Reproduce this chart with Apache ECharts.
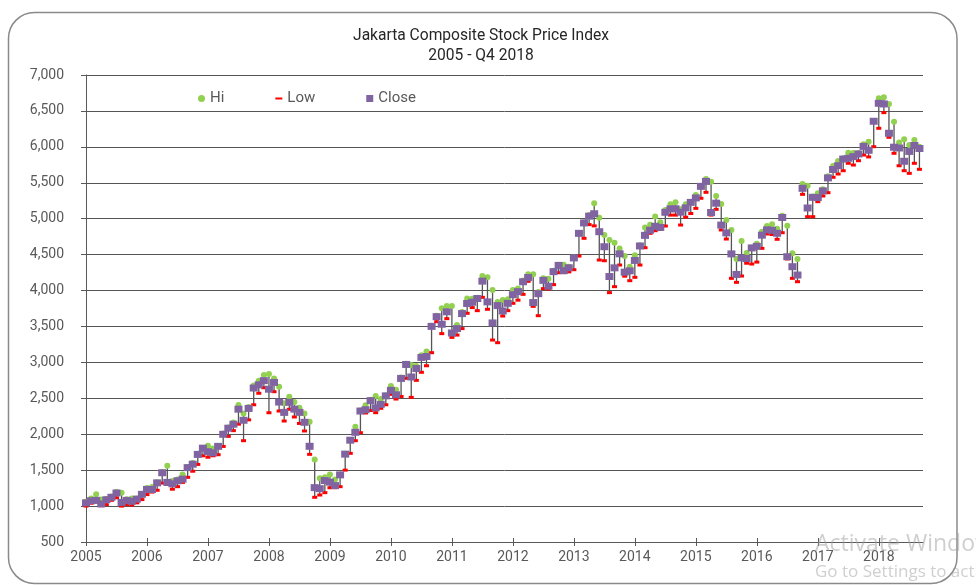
<!DOCTYPE html>
<html>
<head>
<meta charset="utf-8">
<script src="https://cdn.jsdelivr.net/npm/echarts@6/dist/echarts.min.js"></script>
<style>
html,body{margin:0;padding:0;background:#fff;}
#chart{width:976px;height:585px;}
</style>
</head>
<body>
<div id="chart"></div>
<script>
// ---- Data (monthly, Jan 2005 - Sep 2018) ----
const yearLabels = ['2005','2006','2007','2008','2009','2010','2011','2012','2013','2014','2015','2016','2017','2018'];
const seriesNames = ['Hi','Low','Close'];

const closeVals = [
  1045,1074,1080,1030,1088,1122,1182,1051,1079,1066,1097,1163,
  1232,1231,1323,1464,1330,1310,1352,1375,1535,1583,1719,1806,
  1757,1741,1831,1999,2084,2139,2349,2194,2359,2643,2688,2746,
  2627,2721,2448,2304,2444,2350,2304,2166,1832,1257,1242,1355,
  1333,1285,1434,1723,1917,2027,2323,2341,2468,2368,2416,2534,
  2611,2549,2777,2971,2797,2914,3069,3082,3501,3636,3531,3704,
  3409,3470,3679,3820,3837,3889,4131,3842,3549,3791,3715,3822,
  3942,3985,4122,4181,3833,3956,4142,4060,4263,4350,4276,4317,
  4454,4796,4941,5035,5069,4819,4610,4195,4316,4511,4256,4274,
  4419,4620,4768,4840,4894,4879,5089,5137,5138,5090,5150,5227,
  5289,5450,5519,5086,5216,4911,4803,4510,4224,4455,4446,4593,
  4615,4771,4845,4839,4797,5017,4471,4332,4216,5423,5149,5297,
  5294,5387,5568,5685,5738,5830,5841,5864,5901,6006,5952,6356,
  6606,6597,6189,5995,5984,5799,5936,6019,5977
];
const hiVals = [
  1060,1105,1165,1090,1100,1135,1195,1185,1095,1105,1105,1170,
  1250,1265,1330,1475,1560,1350,1370,1440,1545,1600,1730,1810,
  1840,1800,1835,2010,2095,2165,2406,2290,2380,2680,2745,2824,
  2838,2777,2661,2430,2522,2448,2370,2290,2174,1650,1386,1400,
  1440,1370,1440,1730,1920,2104,2330,2405,2480,2531,2489,2540,
  2671,2620,2790,2980,2963,2950,3100,3150,3510,3650,3752,3784,
  3786,3520,3700,3890,3887,3900,4202,4184,4007,3840,3868,3880,
  4007,4030,4140,4225,4225,3980,4170,4165,4275,4360,4359,4330,
  4460,4800,4950,5050,5214,5014,4773,4703,4666,4585,4479,4330,
  4490,4630,4879,4917,5032,4950,5120,5200,5228,5130,5200,5230,
  5330,5460,5552,5515,5316,5204,4982,4843,4439,4689,4523,4600,
  4650,4819,4898,4921,4860,5040,4902,4518,4439,5483,5460,5310,
  5353,5410,5590,5733,5803,5840,5919,5915,5915,6035,6072,6360,
  6676,6690,6596,6350,6059,6105,6026,6095,6000
];
const lowVals = [
  1000,1040,1055,1005,1020,1080,1115,1000,1020,1015,1045,1090,
  1160,1195,1220,1320,1300,1235,1270,1330,1400,1485,1580,1700,
  1680,1700,1715,1830,1970,2050,2140,1910,2200,2410,2570,2647,
  2299,2592,2323,2184,2347,2240,2150,2045,1720,1122,1154,1187,
  1255,1256,1270,1500,1734,1910,2021,2296,2330,2300,2361,2410,
  2555,2490,2525,2778,2513,2750,2862,2953,3135,3566,3400,3609,
  3348,3380,3470,3683,3763,3720,3905,3739,3311,3274,3645,3720,
  3822,3866,3947,4128,3780,3650,4026,4020,4082,4248,4250,4260,
  4290,4480,4727,4918,4900,4425,4415,3971,4054,4355,4200,4137,
  4184,4355,4596,4796,4833,4850,4898,5050,5050,4912,5021,5072,
  5144,5284,5367,5050,5130,4843,4717,4170,4114,4202,4380,4369,
  4396,4587,4787,4780,4713,4805,4440,4170,4123,5339,5028,5028,
  5237,5316,5362,5576,5622,5668,5771,5747,5807,5886,5860,6002,
  6258,6476,6133,5910,5737,5668,5631,5771,5687
];

// ---- Build ----
const yearTicks = yearLabels.map((y, i) => i * 12);
const hlData = closeVals.map((c, i) => [i, hiVals[i], lowVals[i]]);
const hiData = hiVals.map((v, i) => [i, v]);
const lowData = lowVals.map((v, i) => [i, v]);
const closeData = closeVals.map((v, i) => [i, v]);

const FONT = 'Roboto';
const chart = echarts.init(document.getElementById('chart'), null, {renderer: 'canvas'});

const xCommon = {
  type: 'value', min: 0, max: 164.7, interval: 12, gridIndex: 0, position: 'bottom'
};

chart.setOption({
  animation: false,
  backgroundColor: '#fff',
  grid: {left: 86, right: 53, top: 75, bottom: 43, containLabel: false},
  graphic: [
    {type: 'rect', shape: {x: 8.5, y: 12.5, width: 948.5, height: 571, r: 26}, style: {fill: 'none', stroke: '#8a8a8a', lineWidth: 1.5}, z: -1},
    {type: 'text', x: 481, y: 36, style: {text: 'Jakarta Composite Stock Price Index', font: '15.6px Roboto', fill: '#262626', textAlign: 'center', textVerticalAlign: 'middle'}},
    {type: 'text', x: 481, y: 56, style: {text: '2005 - Q4 2018', font: '15.6px Roboto', fill: '#262626', textAlign: 'center', textVerticalAlign: 'middle'}},
    {type: 'text', x: 815, y: 544, style: {text: 'Activate Windows', font: '23px "Open Sans"', fill: 'rgba(160,160,160,0.5)', textVerticalAlign: 'middle'}, z: 100},
    {type: 'text', x: 815, y: 572, style: {text: 'Go to Settings to activate Windows.', font: '17px "Open Sans"', fill: 'rgba(160,160,160,0.5)', textVerticalAlign: 'middle'}, z: 100}
  ],
  legend: {
    left: 193, top: 86, itemGap: 51, itemWidth: 7, itemHeight: 7,
    textStyle: {fontFamily: FONT, fontSize: 15, color: '#595959'},
    data: [
      {name: seriesNames[0], icon: 'circle'},
      {name: seriesNames[1], icon: 'path://M0,3h7v2h-7z'},
      {name: seriesNames[2], icon: 'rect'}
    ]
  },
  xAxis: [
    Object.assign({}, xCommon, {
      axisLine: {show: true, onZero: false, lineStyle: {color: '#595959', width: 1}},
      axisTick: {show: true, inside: false, length: 4, customValues: yearTicks, lineStyle: {color: '#595959'}},
      axisLabel: {customValues: yearTicks, formatter: v => yearLabels[Math.round(v / 12)] || '', fontFamily: FONT, fontSize: 14, color: '#595959', margin: 8},
      splitLine: {show: false}
    }),
    Object.assign({}, xCommon, {
      axisLine: {show: false, onZero: false},
      axisTick: {show: true, inside: true, length: 4, customValues: yearTicks, lineStyle: {color: '#595959'}},
      axisLabel: {show: false},
      splitLine: {show: false}
    })
  ],
  yAxis: {
    type: 'value', min: 500, max: 7000, interval: 500,
    axisLine: {show: true, lineStyle: {color: '#595959', width: 1}},
    axisTick: {show: true, inside: false, length: 5, lineStyle: {color: '#595959'}},
    axisLabel: {fontFamily: FONT, fontSize: 14, color: '#595959', margin: 22,
      formatter: v => v.toLocaleString('en-US')},
    splitLine: {show: true, lineStyle: {color: '#555', width: 1}}
  },
  series: [
    {
      name: 'HL', type: 'custom', xAxisIndex: 0, data: hlData, encode: {x: 0, y: [1, 2]}, z: 1,
      renderItem: function (params, api) {
        const x = api.value(0);
        const p1 = api.coord([x, api.value(1)]);
        const p2 = api.coord([x, api.value(2)]);
        return {type: 'line', shape: {x1: p1[0], y1: p1[1], x2: p2[0], y2: p2[1]}, style: {stroke: '#555', lineWidth: 1.3}};
      }
    },
    {name: seriesNames[0], type: 'scatter', xAxisIndex: 0, data: hiData, symbol: 'circle', symbolSize: 6, itemStyle: {color: '#92D050', opacity: 1}, z: 2},
    {name: seriesNames[1], type: 'scatter', xAxisIndex: 0, data: lowData, symbol: 'rect', symbolSize: [5, 3], itemStyle: {color: '#FF0000', opacity: 1}, z: 3},
    {name: seriesNames[2], type: 'scatter', xAxisIndex: 0, data: closeData, symbol: 'rect', symbolSize: [8, 7], itemStyle: {color: '#8064A2', opacity: 1}, z: 4}
  ]
});
</script>
</body>
</html>
